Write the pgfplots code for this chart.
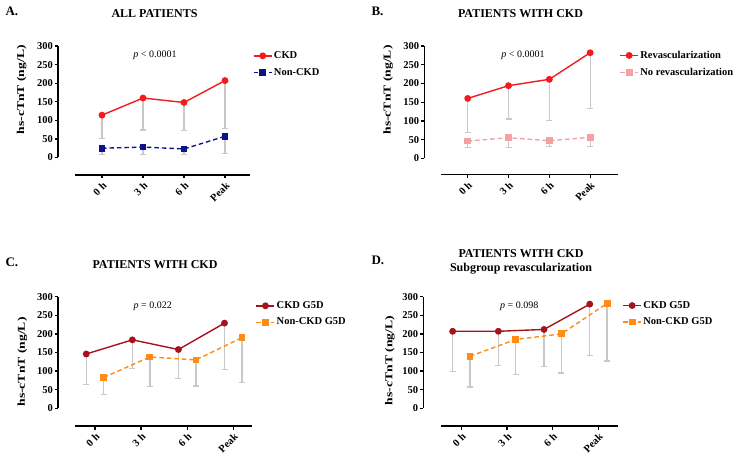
\documentclass[border=0pt]{standalone}
\usepackage{pgfplots}
\pgfplotsset{compat=1.18}
\usepackage{fontspec}
\setmainfont{Liberation Serif}
\usepackage{graphicx}
\definecolor{ckdred}{RGB}{244,26,30}
\definecolor{navyb}{RGB}{12,20,140}
\definecolor{pinkr}{RGB}{245,160,165}
\definecolor{darkr}{RGB}{165,20,30}
\definecolor{orng}{RGB}{255,140,20}
\definecolor{errgray}{RGB}{200,200,200}
\pgfplotsset{
 prism/.style={
  scale only axis, axis lines=left, axis line style={-, line width=1.4pt},
  tick align=outside, major tick length=3.5pt, tick style={line width=1.3pt, black},
  ymax=300, ytick={0,50,...,300},
  xtick={0,1,2,3}, xticklabels={0 h,3 h,6 h,Peak},
  xticklabel style={rotate=45, anchor=north east, inner sep=2pt, font=\bfseries\fontsize{10.5}{12}\selectfont},
  yticklabel style={font=\bfseries\fontsize{10.5}{12}\selectfont, inner sep=1.5pt},
  /pgf/number format/assume math mode=true,
  clip=false,
  legend cell align=left,
  legend style={draw=none, fill=none, font=\bfseries\fontsize{10.5}{12}\selectfont, anchor=west, row sep=5pt, inner sep=0pt, nodes={inner sep=1.5pt},
     /tikz/every even column/.append style={column sep=2pt}},
  legend image code/.code={\draw[mark repeat=2,mark phase=2,##1] plot coordinates {(0pt,0pt)(9pt,0pt)(18pt,0pt)};},
  ylabel={\scalebox{1.3}[1]{hs-cTnT (ng/L)}},
 },
 ebar/.style={forget plot, only marks, mark=none, error bars/.cd, y dir=minus, y explicit,
   error mark=-, error bar style={line width=1.3pt, errgray}, error mark options={rotate=90, line width=1.2pt, errgray, mark size=3pt}},
 solidl/.style={line width=1.4pt, mark=*, mark size=2.7pt},
 dashl/.style={line width=1.4pt, dash pattern=on 4.5pt off 3pt, mark=square*, mark size=2.7pt, mark options={solid}},
}
\begin{document}
\begin{tikzpicture}[x=1pt,y=1pt]
\useasboundingbox (0pt,0pt) rectangle (738pt,458pt);
% ---------- A ----------
\begin{axis}[prism, at={(58pt,283pt)}, anchor=south west, width=192pt, height=129pt,
  xmin=-1.073, xmax=3.61, ymin=-47.1,
  x axis line style={shorten <=17pt}, y axis line style={shorten <=17.5pt},
  every axis y label/.style={at={(axis description cs:-0.19,0.66)}, rotate=90, anchor=center, font=\bfseries\fontsize{10.5}{12}\selectfont},
  legend style={at={(axis description cs:1.015,0.86)}}]
\addplot[ebar] table[x=x,y=y,y error minus=e]{
x y e
0 114 62
1 160 86
2 148 76
3 207 128
};
\addplot[ebar] table[x=x,y=y,y error minus=e]{
x y e
0 25 18
1 28 20
2 23 15
3 57 47
};
\addplot[ckdred, solidl] coordinates {(0,114)(1,160)(2,148)(3,207)};
\addlegendentry{CKD}
\addplot[navyb, dashl] coordinates {(0,25)(1,28)(2,23)(3,57)};
\addlegendentry{Non-CKD}
\end{axis}
% ---------- B ----------
\begin{axis}[prism, at={(424.3pt,283.7pt)}, anchor=south west, width=194pt, height=128.3pt,
  xmin=-1.064, xmax=3.69, ymin=-42.7,
  x axis line style={shorten <=16.7pt}, y axis line style={shorten <=16pt},
  every axis y label/.style={at={(axis description cs:-0.186,0.657)}, rotate=90, anchor=center, font=\bfseries\fontsize{10.5}{12}\selectfont},
  legend style={at={(axis description cs:1.005,0.861)}}]
\addplot[ebar] table[x=x,y=y,y error minus=e]{
x y e
0 160 90
1 194 89
2 211 111
3 282 150
};
\addplot[ebar] table[x=x,y=y,y error minus=e]{
x y e
0 46 18
1 55 26
2 47 16
3 56 24
};
\addplot[ckdred, solidl] coordinates {(0,160)(1,194)(2,211)(3,282)};
\addlegendentry{Revascularization}
\addplot[pinkr, dashl] coordinates {(0,46)(1,55)(2,47)(3,56)};
\addlegendentry{No revascularization}
\end{axis}
% ---------- C ----------
\begin{axis}[prism, at={(58pt,32pt)}, anchor=south west, width=193.7pt, height=129.3pt,
  xmin=-0.803, xmax=3.40, ymin=-47.6,
  x axis line style={shorten <=17pt}, y axis line style={shorten <=17.7pt},
  every axis y label/.style={at={(axis description cs:-0.184,0.495)}, rotate=90, anchor=center, font=\bfseries\fontsize{10.5}{12}\selectfont},
  legend style={at={(axis description cs:1.02,0.866)}}]
\addplot[ebar] table[x=x,y=y,y error minus=e]{
x y e
-0.19 146 81
0.81 184 78
1.81 158 77
2.81 229 124
};
\addplot[ebar] table[x=x,y=y,y error minus=e]{
x y e
0.19 83 45
1.19 138 80
2.19 130 70
3.19 190 120
};
\addplot[darkr, solidl] coordinates {(-0.19,146)(0.81,184)(1.81,158)(2.81,229)};
\addlegendentry{CKD G5D}
\addplot[orng, dashl] coordinates {(0.19,83)(1.19,138)(2.19,130)(3.19,190)};
\addlegendentry{Non-CKD G5D}
\end{axis}
% ---------- D ----------
\begin{axis}[prism, at={(423.3pt,32pt)}, anchor=south west, width=195pt, height=129.3pt,
  xmin=-0.832, xmax=3.435, ymin=-47.6,
  x axis line style={shorten <=17.7pt}, y axis line style={shorten <=17.7pt},
  every axis y label/.style={at={(axis description cs:-0.171,0.507)}, rotate=90, anchor=center, font=\bfseries\fontsize{10.5}{12}\selectfont},
  legend style={at={(axis description cs:1.02,0.868)}}]
\addplot[ebar] table[x=x,y=y,y error minus=e]{
x y e
-0.19 207 109
0.81 207 92
1.81 212 100
2.81 280 137
};
\addplot[ebar] table[x=x,y=y,y error minus=e]{
x y e
0.19 140 83
1.19 185 95
2.19 200 105
3.19 282 155
};
\addplot[darkr, solidl] coordinates {(-0.19,207)(0.81,207)(1.81,212)(2.81,280)};
\addlegendentry{CKD G5D}
\addplot[orng, dashl] coordinates {(0.19,140)(1.19,185)(2.19,200)(3.19,282)};
\addlegendentry{Non-CKD G5D}
\end{axis}
% ---------- texts ----------
\node[anchor=west, font=\bfseries\fontsize{13}{15}\selectfont] at (2pt,447pt) {A.};
\node[anchor=west, font=\bfseries\fontsize{13}{15}\selectfont] at (368pt,447pt) {B.};
\node[anchor=west, font=\bfseries\fontsize{13}{15}\selectfont] at (2pt,196pt) {C.};
\node[anchor=west, font=\bfseries\fontsize{13}{15}\selectfont] at (368pt,198pt) {D.};
\node[font=\bfseries\fontsize{12}{14}\selectfont] at (154.5pt,444pt) {ALL PATIENTS};
\node[font=\bfseries\fontsize{12}{14}\selectfont] at (520.5pt,444pt) {PATIENTS WITH CKD};
\node[font=\bfseries\fontsize{12}{14}\selectfont] at (155pt,193pt) {PATIENTS WITH CKD};
\node[font=\bfseries\fontsize{12}{14}\selectfont] at (521pt,204pt) {PATIENTS WITH CKD};
\node[font=\bfseries\fontsize{12}{14}\selectfont] at (521pt,189pt) {Subgroup revascularization};
\node[font=\fontsize{10}{12}\selectfont] at (155pt,403pt) {\textit{p} < 0.0001};
\node[font=\fontsize{10}{12}\selectfont] at (523pt,403pt) {\textit{p} < 0.0001};
\node[font=\fontsize{10}{12}\selectfont] at (152.7pt,152pt) {\textit{p} = 0.022};
\node[font=\fontsize{10}{12}\selectfont] at (519.3pt,152pt) {\textit{p} = 0.098};
\end{tikzpicture}
\end{document}
